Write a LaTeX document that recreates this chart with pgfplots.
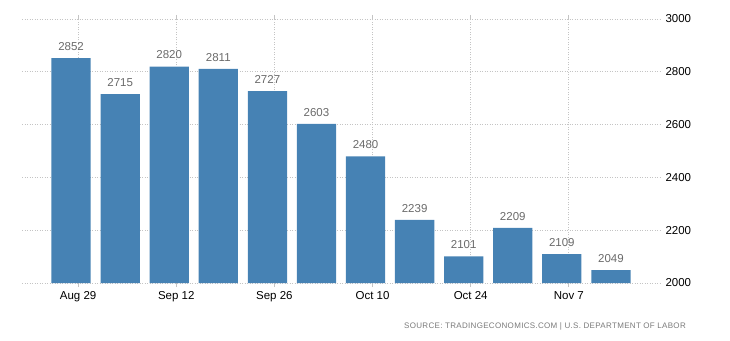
\documentclass[border=0pt]{standalone}
\usepackage{fontspec}
\setmainfont{Liberation Sans}
\usepackage{pgfplots}
\pgfplotsset{compat=1.18}
\definecolor{barblue}{HTML}{4682B4}
\definecolor{gridgray}{HTML}{C4C4C4}
\definecolor{lblgray}{HTML}{6A6A6A}
\definecolor{srcgray}{HTML}{7A7A7A}
\begin{document}
\begin{tikzpicture}[x=1pt,y=1pt]
\useasboundingbox (0,0) rectangle (730,340);
\begin{axis}[
  at={(22pt,57pt)}, anchor=south west,
  width=638pt, height=264pt, scale only axis,
  xmin=-1, xmax=12, ymin=2000, ymax=3000,
  ybar, bar width=0.8, bar shift=0pt,
  axis line style={draw=none},
  ytick={2000,2200,2400,2600,2800,3000},
  yticklabel pos=right,
  xtick={0.1429,2.1429,4.1429,6.1429,8.1429,10.1429},
  xticklabels={Aug 29,Sep 12,Sep 26,Oct 10,Oct 24,Nov 7},
  ymajorgrids, xmajorgrids,
  grid style={gridgray, line width=0.8pt, dash pattern=on 1pt off 1.5pt},
  tick align=outside, major tick length=4pt,
  xtick style={gridgray, line width=0.8pt},
  ytick style={draw=none},
  /pgf/number format/assume math mode=true,
  yticklabel style={/pgf/number format/1000 sep={}, font=\fontsize{11.5}{13}\selectfont, anchor=west, xshift=-2pt},
  xticklabel style={font=\fontsize{11.5}{13}\selectfont, yshift=-1pt},
  nodes near coords,
  nodes near coords style={font=\fontsize{11.5}{13}\selectfont, text=lblgray, yshift=4pt, /pgf/number format/1000 sep={}},
  clip=false,
]
\addplot[fill=barblue, draw=none] coordinates {
  (0,2852) (1,2715) (2,2820) (3,2811) (4,2727) (5,2603)
  (6,2480) (7,2239) (8,2101) (9,2209) (10,2109) (11,2049)
};
\end{axis}
\node[anchor=east, text=srcgray, font=\fontsize{8}{9}\selectfont\addfontfeature{LetterSpace=4}, inner sep=0pt] at (686,14) {SOURCE: TRADINGECONOMICS.COM | U.S. DEPARTMENT OF LABOR};
\end{tikzpicture}
\end{document}
